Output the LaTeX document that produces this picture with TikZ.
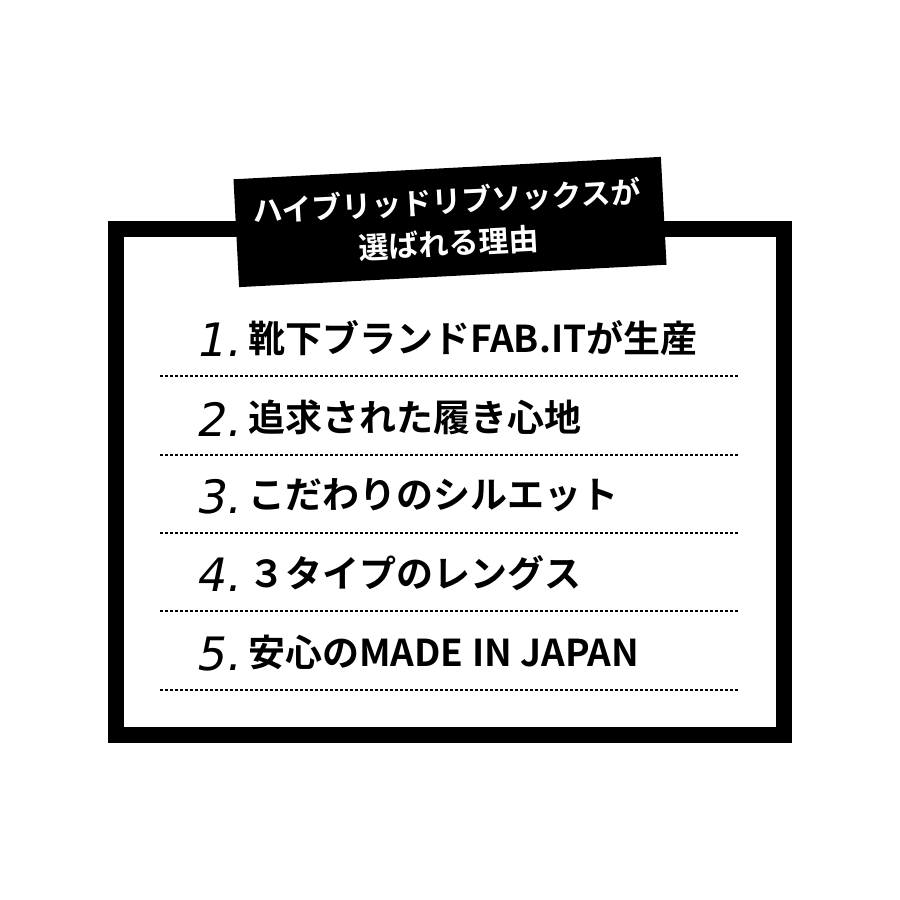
\documentclass[tikz,border=0pt]{standalone}
\usepackage{fontspec}
\newfontfamily\jp{Noto Sans CJK JP Bold}
\newfontfamily\num{DejaVu Sans}[FakeSlant=0.2]
\begin{document}
\begin{tikzpicture}[x=1pt,y=-1pt,
  item/.style={anchor=west,inner sep=0,font=\jp\fontsize{37}{40}\selectfont},
  numst/.style={anchor=east,inner sep=0,font=\num\fontsize{46}{48}\selectfont},
  dotline/.style={line width=2.5pt,dash pattern=on 2.5pt off 2.5pt}]
\useasboundingbox (0,0) rectangle (900,900);
\fill[white] (0,0) rectangle (900,900);
\draw[line width=16pt] (116,229) rectangle (784,735);
\node[fill=black,minimum width=428,minimum height=108,rotate=3,inner sep=0] (title) at (450,222) {};
\node[rotate=3,text=white,align=center,font=\jp\fontsize{30}{42}\selectfont] (tt) at (448,222) {ハイブリッドリブソックスが\\選ばれる理由};
\foreach \y/\n/\t [count=\i] in {338/1/靴下ブランドFAB.ITが生産,417/2/追求された履き心地,495/3/こだわりのシルエット,573/4/３タイプのレングス,652/5/安心のMADE IN JAPAN}{
  \node[numst] (n\i) at (240,\y+2) {\n.};
  \node[item] (t\i) at (248,\y) {\t};
  \coordinate (a\i) at (160,\y+38);
  \coordinate (b\i) at (738,\y+38);
  \draw[dotline] (a\i) -- (b\i);
}
\end{tikzpicture}
\end{document}
